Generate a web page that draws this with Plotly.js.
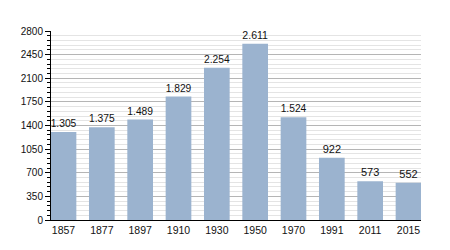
<!DOCTYPE html>
<html><head><meta charset="utf-8">
<script src="https://cdn.plot.ly/plotly-3.0.1.min.js"></script>
<style>html,body{margin:0;padding:0;background:#fff}#c{width:450px;height:250px}</style>
</head><body><div id="c"></div>
<script>
const years = ["1857","1877","1897","1910","1930","1950","1970","1991","2011","2015"];
const population = [1305,1375,1489,1829,2254,2611,1524,922,573,552];
const yTicks = [0,350,700,1050,1400,1750,2100,2450,2800];

Plotly.newPlot('c', [{
  type:'bar', x:years, y:population,
  marker:{color:'#9bb3cf'},
  texttemplate:'%{y:,}', textposition:'outside', cliponaxis:false,
  textfont:{family:'Liberation Sans, Arial, sans-serif', size:11, color:'#111'},
  hoverinfo:'none'
}], {
  width:450, height:250,
  margin:{l:51, r:29, t:31, b:30},
  separators:',.',
  paper_bgcolor:'#fff', plot_bgcolor:'#fff',
  bargap:0.33,
  showlegend:false,
  font:{family:'Liberation Sans, Arial, sans-serif', size:10, color:'#111'},
  xaxis:{type:'category', range:[-0.326, 9.326], showline:true, linecolor:'#000', linewidth:1,
    ticks:'', showgrid:false, tickfont:{size:10.5}, fixedrange:true},
  yaxis:{range:[0,2800], tickvals:yTicks, ticktext:yTicks.map(String), showline:true, linecolor:'#000', linewidth:1,
    ticks:'outside', ticklen:5, tickcolor:'#000', showgrid:true, gridcolor:'#b5b5b5', gridwidth:1,
    zeroline:false, tickfont:{size:10},
    minor:{dtick:70, tick0:0, showgrid:true, gridcolor:'#e4e4e4', ticks:'outside', ticklen:3, tickcolor:'#000'}}
}, {staticPlot:true});
</script>
</body></html>
